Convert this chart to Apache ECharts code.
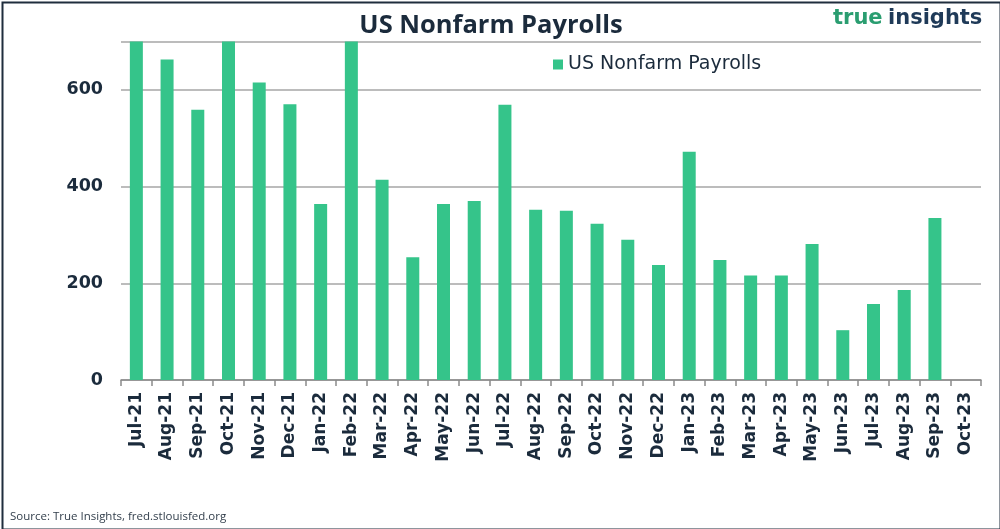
<!DOCTYPE html>
<html>
<head>
<meta charset="utf-8">
<script src="https://cdn.jsdelivr.net/npm/echarts@6/dist/echarts.min.js"></script>
<style>
html,body{margin:0;padding:0;background:#fff;}
#chart{width:1000px;height:529px;}
</style>
</head>
<body>
<div id="chart"></div>
<script>
const categories = ['Jul-21','Aug-21','Sep-21','Oct-21','Nov-21','Dec-21','Jan-22','Feb-22','Mar-22','Apr-22','May-22','Jun-22','Jul-22','Aug-22','Sep-22','Oct-22','Nov-22','Dec-22','Jan-23','Feb-23','Mar-23','Apr-23','May-23','Jun-23','Jul-23','Aug-23','Sep-23','Oct-23'];
const payrolls = [700,663,559,700,615,570,364,700,414,254,364,370,569,352,350,323,290,238,472,248,216,216,281,103,157,186,335,null];
const yTicks = [0,200,400,600];

const chart = echarts.init(document.getElementById('chart'));
const navy = '#1b2b3c';
chart.setOption({
  animation: false,
  backgroundColor: '#fff',
  legend: {
    data: ['US Nonfarm Payrolls'],
    left: 548, top: 50,
    icon: 'rect', itemWidth: 10, itemHeight: 10,
    textStyle: {fontFamily: 'DejaVu Sans', fontSize: 19, color: navy}
  },
  grid: {left: 121, right: 19, top: 41.5, bottom: 149, containLabel: false},
  xAxis: {
    type: 'category', data: categories,
    axisLine: {lineStyle: {color: '#8a8a8a', width: 1.5}},
    axisTick: {show: true, length: 6, lineStyle: {color: '#8a8a8a', width: 1.5}},
    axisLabel: {rotate: 90, interval: 0, margin: 12, fontFamily: 'DejaVu Sans', fontWeight: 'bold', fontSize: 17, color: navy}
  },
  yAxis: {
    type: 'value', min: 0, max: 700, interval: 200,
    axisLine: {show: false}, axisTick: {show: false},
    axisLabel: {margin: 18, fontFamily: 'DejaVu Sans', fontWeight: 'bold', fontSize: 17.5, color: navy,
      formatter: v => yTicks.indexOf(v) >= 0 ? String(v) : ''},
    splitLine: {lineStyle: {color: '#a6a6a6', width: 1.5}}
  },
  series: [{
    name: 'US Nonfarm Payrolls', type: 'bar', data: payrolls,
    barWidth: 13, itemStyle: {color: '#35c48a'}, clip: true
  }],
  graphic: [
    {type: 'rect', left: 0, top: 0, shape: {width: 998, height: 527}, style: {fill: 'none', stroke: '#1f2d3d', lineWidth: 2}, z: 100, position: [1,1]},
    {type: 'text', x: 491, y: 13, style: {text: 'US Nonfarm Payrolls', textAlign: 'center', fontFamily: 'Open Sans', fontWeight: 'bold', fontSize: 25.5, fill: navy}},
    {type: 'text', x: 833, y: 8, style: {text: 'true', fontFamily: 'DejaVu Sans', fontWeight: 'bold', fontSize: 21, fill: '#2a9d70'}},
    {type: 'text', x: 888, y: 8, style: {text: 'insights', fontFamily: 'DejaVu Sans', fontWeight: 'bold', fontSize: 21, fill: '#1f3a58'}},
    {type: 'text', x: 10, y: 511, style: {text: 'Source: True Insights, fred.stlouisfed.org', fontFamily: 'Open Sans', fontSize: 11.5, fill: '#34404d'}}
  ]
});
</script>
</body>
</html>
